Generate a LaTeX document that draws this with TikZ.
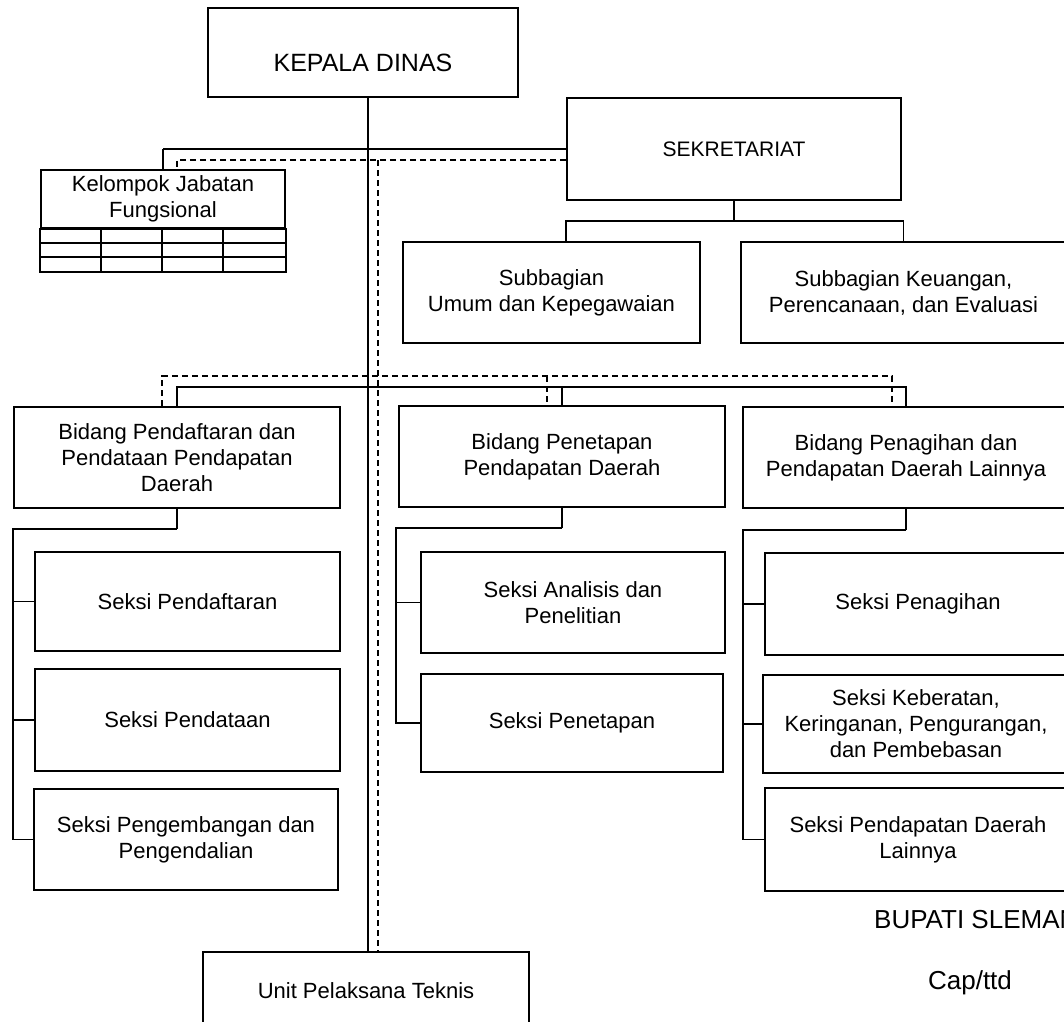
\documentclass[tikz,border=0pt]{standalone}
\usepackage{fontspec}
\setmainfont{Liberation Sans}
\begin{document}
\begin{tikzpicture}[x=1pt,y=-1pt,
  box/.style={draw, line width=1.6pt, align=center, inner sep=0pt,
              font=\fontsize{22}{26}\selectfont},
  link/.style={line width=1.6pt},
  droplink/.style={line width=2.6pt},
  dashlink/.style={line width=1.5pt, dash pattern=on 6pt off 4pt},
]
\useasboundingbox (0,0) rectangle (1064,1021);
\fill[white] (0,0) rectangle (1064,1021);
\clip (0,0) rectangle (1064,1021);

% head and secretariat
\node[box, minimum width=310pt, minimum height=89pt,
      font=\fontsize{25}{30}\selectfont, text height=38pt, text depth=0pt]
      (kd) at (363,52.5) {KEPALA DINAS};
\node[box, minimum width=334pt, minimum height=102pt,
      font=\fontsize{21}{25}\selectfont] (sek) at (734,149) {SEKRETARIAT};

% functional group with its table
\node[box, minimum width=244pt, minimum height=58pt] (kjf) at (163,199)
      {Kelompok Jabatan\\Fungsional};
\coordinate (kjfb) at ([yshift=-43pt]kjf.south east);
\draw[link] (kjf.south west) rectangle (kjfb);
\foreach \dy in {14,28} {
  \draw[link] ([yshift=-\dy pt]kjf.south west) -- ([yshift=-\dy pt]kjf.south east);
}
\foreach \dx in {61,122,183} {
  \draw[link] ([xshift=\dx pt]kjf.south west) -- ([xshift=\dx pt]kjf.south west |- kjfb);
}

% sub-sections of the secretariat
\node[box, minimum width=297pt, minimum height=101pt] (sbu) at (551.5,292.5)
      {Subbagian\\Umum dan Kepegawaian};
\node[box, minimum width=325pt, minimum height=101pt] (sbk) at (903.5,292.5)
      {Subbagian Keuangan,\\Perencanaan, dan Evaluasi};

% divisions
\node[box, minimum width=326pt, minimum height=101pt] (bpd) at (177,457.5)
      {Bidang Pendaftaran dan\\Pendataan Pendapatan\\Daerah};
\node[box, minimum width=326pt, minimum height=101pt] (bpt) at (562,456.5)
      {Bidang Penetapan\\Pendapatan Daerah};
\node[box, minimum width=326pt, minimum height=101pt] (bpg) at (906,457.5)
      {Bidang Penagihan dan\\Pendapatan Daerah Lainnya};

% sections, left column
\node[box, minimum width=305pt, minimum height=99pt] (spd) at (187.5,601.5)
      {Seksi Pendaftaran};
\node[box, minimum width=305pt, minimum height=102pt] (sdt) at (187.5,720)
      {Seksi Pendataan};
\node[box, minimum width=304pt, minimum height=101pt] (spg) at (186,839.5)
      {Seksi Pengembangan dan\\Pengendalian};

% sections, middle column
\node[box, minimum width=304pt, minimum height=101pt] (san) at (573,602.5)
      {Seksi Analisis dan\\Penelitian};
\node[box, minimum width=302pt, minimum height=98pt] (spn) at (572,723)
      {Seksi Penetapan};

% sections, right column
\node[box, minimum width=306pt, minimum height=102pt] (sph) at (918,604)
      {Seksi Penagihan};
\node[box, minimum width=306pt, minimum height=98pt] (skb) at (916,724)
      {Seksi Keberatan,\\Keringanan, Pengurangan,\\dan Pembebasan};
\node[box, minimum width=306pt, minimum height=103pt] (spl) at (918,839.5)
      {Seksi Pendapatan Daerah\\Lainnya};

% technical unit
\node[box, minimum width=326pt, minimum height=78pt] (upt) at (366,991)
      {Unit Pelaksana Teknis};

% signature block
\node[anchor=west, inner sep=0pt, font=\fontsize{26}{30}\selectfont]
      (bup) at (874,920) {BUPATI SLEMAN};
\node[inner sep=0pt, font=\fontsize{26}{30}\selectfont]
      (cap) at (970,983) {Cap/ttd};

% command spine and coordination line
\coordinate (spine) at (368,0);
\coordinate (dspine) at (378,0);
\draw[link] (kd.south -| spine) -- (upt.north -| spine);

% secretariat to functional group
\coordinate (kjfd) at ([xshift=14pt]kjf.north);
\coordinate (sekd) at ([yshift=-11pt]sek.west);
\draw[link] (sek.west) -- (sek.west -| kjf.north);
\draw[droplink] (sek.west -| kjf.north) -- (kjf.north);
\draw[dashlink] (sekd) -| (kjfd);
\draw[dashlink] (sekd -| dspine) -- (upt.north -| dspine);

% secretariat to its sub-sections
\draw[link] (sek.south) -- ++(0,20) coordinate (sbar);
\draw[link] (sbu.north -| sek.west) |- (sbar) -| (sbk.north);

% spine to divisions
\coordinate (hbar) at (0,387);
\coordinate (dbar) at (0,376);
\draw[link] (bpd.north) -- (bpd.north |- hbar) -- (bpg.north |- hbar) -- (bpg.north);
\draw[link] (bpt.north |- hbar) -- (bpt.north);
\coordinate (d1) at ([xshift=-15pt]bpd.north);
\coordinate (d2) at ([xshift=-15pt]bpt.north);
\coordinate (d3) at ([xshift=-14pt]bpg.north);
\draw[dashlink] (d1) -- (d1 |- dbar) -- (d3 |- dbar) -- (d3);
\draw[dashlink] (d2 |- dbar) -- (d2);

% divisions to their sections
\coordinate (lr) at ([yshift=-20pt]bpd.south west);
\draw[droplink] (bpd.south) -- (bpd.south |- lr);
\draw[link] (bpd.south |- lr) -- (lr) -- (lr |- spg.west) -- (spg.west);
\draw[link] (lr |- spd.west) -- (spd.west);
\draw[link] (lr |- sdt.west) -- (sdt.west);

\coordinate (mr) at ([xshift=-2pt,yshift=-20pt]bpt.south west);
\draw[droplink] (bpt.south) -- (bpt.south |- mr);
\draw[link] (bpt.south |- mr) -- (mr) -- (mr |- spn.west) -- (spn.west);
\draw[link] (mr |- san.west) -- (san.west);

\coordinate (rr) at ([xshift=1pt,yshift=-21pt]bpg.south west);
\draw[droplink] (bpg.south) -- (bpg.south |- rr);
\draw[link] (bpg.south |- rr) -- (rr) -- (rr |- spl.west) -- (spl.west);
\draw[link] (rr |- sph.west) -- (sph.west);
\draw[link] (rr |- skb.west) -- (skb.west);
\end{tikzpicture}
\end{document}
